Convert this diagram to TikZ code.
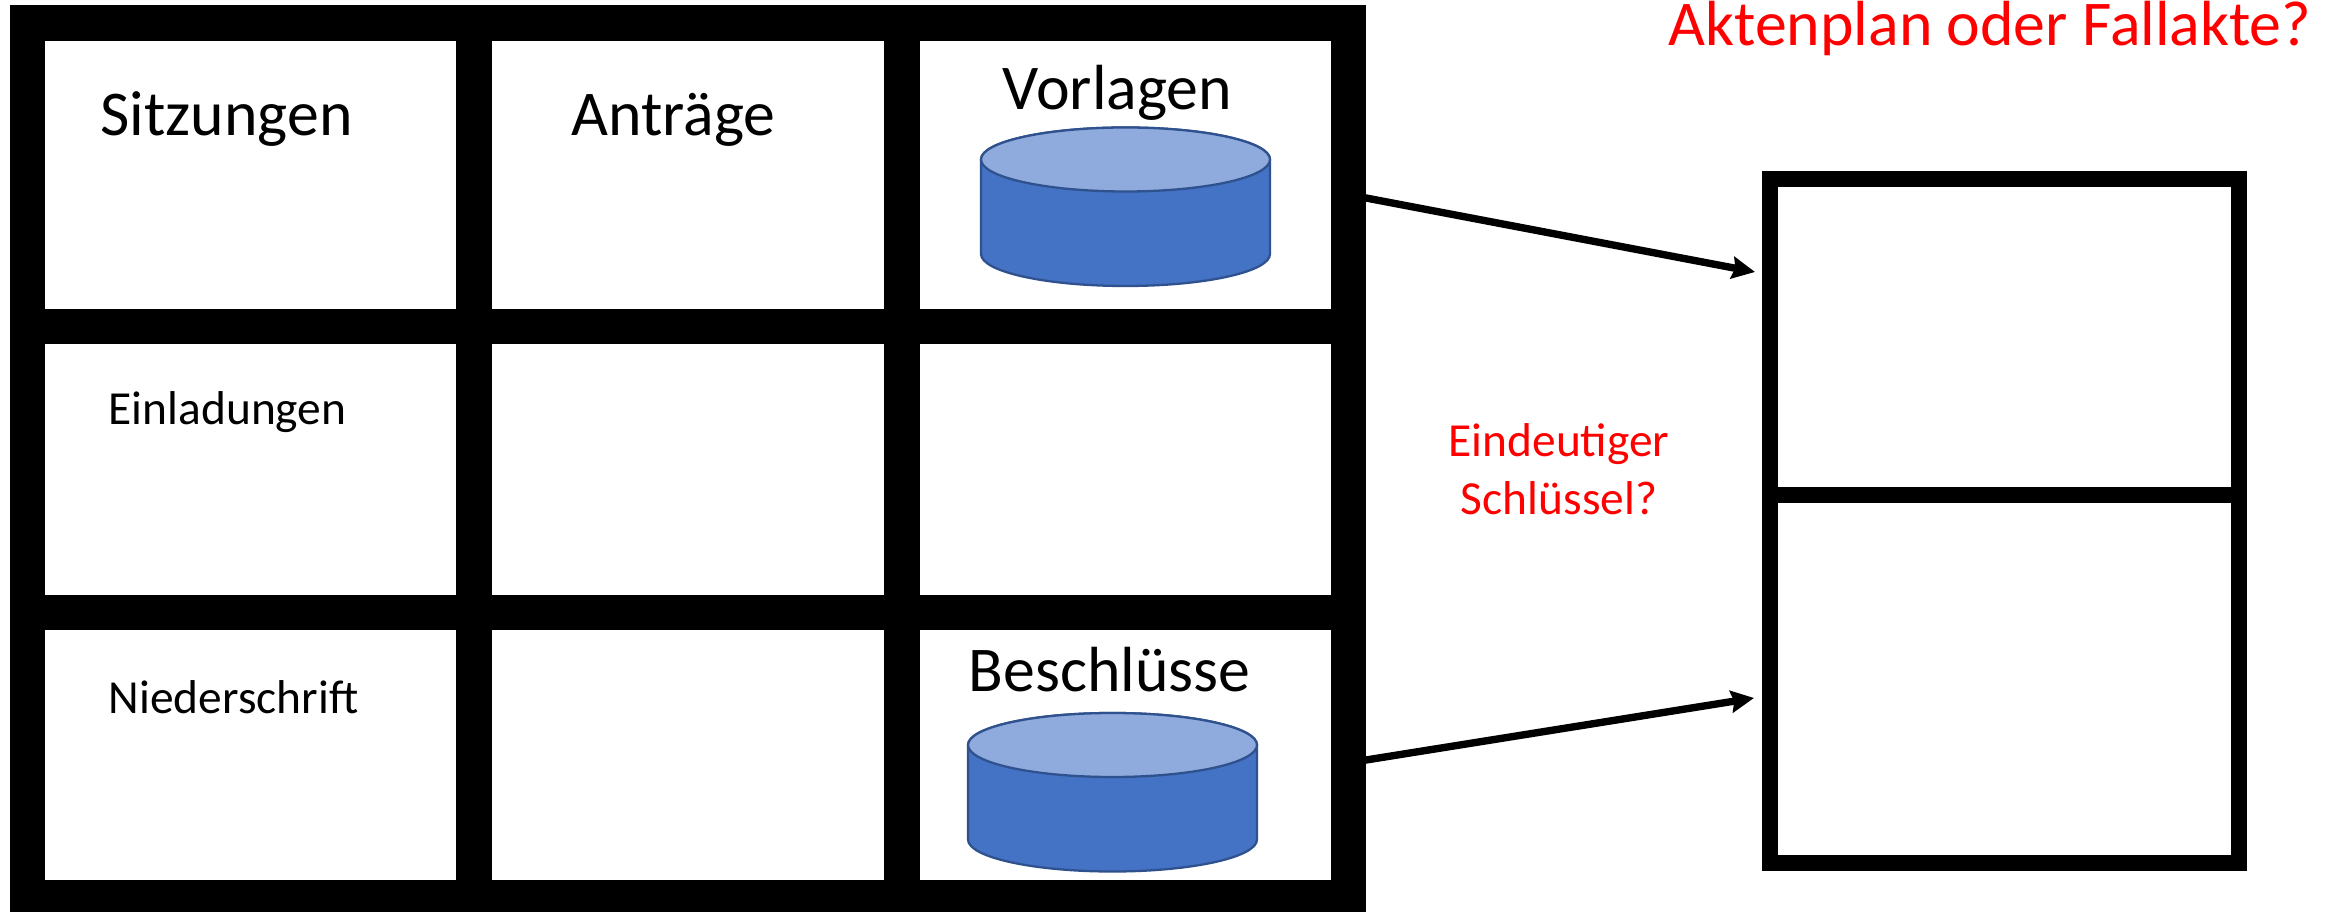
\documentclass[tikz,border=0pt]{standalone}
\usepackage{fontspec}
\setmainfont{Carlito}
\usetikzlibrary{arrows.meta}
\definecolor{diskbody}{HTML}{4472C4}
\definecolor{disktop}{HTML}{8FAADC}
\definecolor{diskline}{HTML}{2F528F}
\begin{document}
\begin{tikzpicture}
\tikzset{
    myframe/.style = {rectangle, fill=black, inner sep=0pt, outer sep=0pt},
    mycell/.style = {rectangle, fill=white, inner sep=0pt, outer sep=0pt},
    mydisk/.pic = {
        \draw[draw=diskline, fill=diskbody, line width=0.65pt] (-1.445,0.4725) -- (-1.445,-0.4725)
            arc[start angle=180, end angle=360, x radius=1.445, y radius=0.32] -- (1.445,0.4725)
            arc[start angle=0, end angle=180, x radius=1.445, y radius=0.32] -- cycle;
        \draw[draw=diskline, fill=disktop, line width=0.65pt] (0,0.4725) ellipse[x radius=1.445, y radius=0.32];
    },
    mybig/.style = {anchor=base west, inner sep=0pt, font=\fontsize{18.15}{22}\selectfont},
    mysmall/.style = {anchor=base west, inner sep=0pt, font=\fontsize{13.5}{16.5}\selectfont},
    edger/.style = {-{Stealth[length=0.23cm,width=0.22cm,inset=0.03cm]}, line width=2.1pt, black}
}
\useasboundingbox (0,0) rectangle (23.39,9.12);
\node[myframe, minimum width=13.56cm, minimum height=9.07cm] at (6.88,4.535) (table) {};
\node[mycell, minimum width=4.11cm, minimum height=2.68cm] at (2.505,7.37) (c11) {};
\node[mycell, minimum width=3.92cm, minimum height=2.68cm] at (6.88,7.37) (c12) {};
\node[mycell, minimum width=4.11cm, minimum height=2.68cm] at (11.255,7.37) (c13) {};
\node[mycell, minimum width=4.11cm, minimum height=2.51cm] at (2.505,4.425) (c21) {};
\node[mycell, minimum width=3.92cm, minimum height=2.51cm] at (6.88,4.425) (c22) {};
\node[mycell, minimum width=4.11cm, minimum height=2.51cm] at (11.255,4.425) (c23) {};
\node[mycell, minimum width=4.11cm, minimum height=2.50cm] at (2.505,1.57) (c31) {};
\node[mycell, minimum width=3.92cm, minimum height=2.50cm] at (6.88,1.57) (c32) {};
\node[mycell, minimum width=4.11cm, minimum height=2.50cm] at (11.255,1.57) (c33) {};
\node[mybig] at (1.00,7.76) (sitzungen) {Sitzungen};
\node[mybig] at (5.71,7.76) (antraege) {Anträge};
\node[mybig] at (10.02,8.02) (vorlagen) {Vorlagen};
\node[mybig] at (9.68,2.21) (beschluesse) {Beschlüsse};
\node[mysmall] at (1.08,4.87) (einladungen) {Einladungen};
\node[mysmall] at (1.08,1.985) (niederschrift) {Niederschrift};
\pic (diska) at (11.255,7.0525) {mydisk};
\pic (diskb) at (11.125,1.1975) {mydisk};
\node[myframe, minimum width=4.85cm, minimum height=7.00cm] at (20.045,3.91) (plan) {};
\node[mycell, minimum width=4.53cm, minimum height=3.00cm] at (20.045,5.75) (plana) {};
\node[mycell, minimum width=4.53cm, minimum height=3.52cm] at (20.045,2.33) (planb) {};
\node[mybig, text=red] at (16.68,8.66) (frage) {Aktenplan oder Fallakte?};
\node[inner sep=0pt, align=center, text=red, font=\fontsize{13.5}{16.5}\selectfont] at (15.59,4.425) (schluessel) {Eindeutiger\\Schlüssel?};
\draw[edger] ([xshift=0.05cm,yshift=-0.173cm]c13.east) -- ([xshift=-0.23cm,yshift=0.65cm]plana.west);
\draw[edger] ([xshift=0.05cm,yshift=-0.098cm]c33.east) -- ([xshift=-0.24cm,yshift=-0.19cm]planb.west);
\end{tikzpicture}
\end{document}
